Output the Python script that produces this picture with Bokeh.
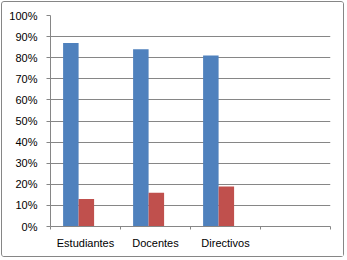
from bokeh.plotting import figure
from bokeh.models import FixedTicker, NumeralTickFormatter, ColumnDataSource
from bokeh.embed import file_html
from bokeh.resources import INLINE

categories = ["Estudiantes", "Docentes", "Directivos", ""]
serie1 = [0.87, 0.84, 0.81]
serie2 = [0.13, 0.16, 0.19]
y_ticks = [0.0, 0.1, 0.2, 0.3, 0.4, 0.5, 0.6, 0.7, 0.8, 0.9, 1.0]

BLUE = "#4F81BD"
RED = "#C0504D"
GRAY = "#868686"
FONT = "Liberation Sans"

n = len(categories)
centers = [i + 0.5 for i in range(n)]
bw = 15.5 / 70.0

p = figure(width=343, height=256, x_range=(0, n), y_range=(0, 1),
           output_backend="svg", toolbar_location=None,
           min_border_left=48, min_border_right=15,
           min_border_top=13, min_border_bottom=32)
p.styles = {"border": "1px solid #868686", "border-radius": "3px", "margin": "1px"}
p.outline_line_color = None
p.background_fill_color = "white"
p.border_fill_color = "white"

src1 = ColumnDataSource(dict(x=[c - 0.3 + bw / 2 - 0.02 for c in centers[:len(serie1)]], top=serie1))
src2 = ColumnDataSource(dict(x=[c - 0.3 + bw * 1.5 - 0.02 for c in centers[:len(serie2)]], top=serie2))
p.vbar(x="x", top="top", bottom=0, width=bw, source=src1, fill_color=BLUE, line_color=None)
p.vbar(x="x", top="top", bottom=0, width=bw, source=src2, fill_color=RED, line_color=None)

# y axis
p.yaxis.ticker = FixedTicker(ticks=y_ticks, minor_ticks=[])
p.yaxis.formatter = NumeralTickFormatter(format="0%")
p.yaxis.axis_line_color = GRAY
p.yaxis.major_tick_line_color = GRAY
p.yaxis.major_tick_out = 4
p.yaxis.major_tick_in = 0
p.yaxis.minor_tick_line_color = None
p.yaxis.major_label_text_font = FONT
p.yaxis.major_label_text_font_size = "11px"
p.yaxis.major_label_text_color = "#000000"
p.yaxis.major_label_standoff = 9

# x axis
p.xaxis.ticker = FixedTicker(ticks=centers, minor_ticks=list(range(n + 1)))
p.xaxis.major_label_overrides = {c: lab for c, lab in zip(centers, categories)}
p.xaxis.axis_line_color = GRAY
p.xaxis.major_tick_line_color = None
p.xaxis.major_tick_out = 0
p.xaxis.major_tick_in = 0
p.xaxis.minor_tick_line_color = GRAY
p.xaxis.minor_tick_out = 3
p.xaxis.minor_tick_in = 0
p.xaxis.major_label_text_font = FONT
p.xaxis.major_label_text_font_size = "11px"
p.xaxis.major_label_text_color = "#000000"
p.xaxis.major_label_standoff = 7

p.xgrid.grid_line_color = None
p.ygrid.grid_line_color = GRAY
p.ygrid.ticker = FixedTicker(ticks=y_ticks)

open("out.html", "w").write(file_html(p, INLINE))
